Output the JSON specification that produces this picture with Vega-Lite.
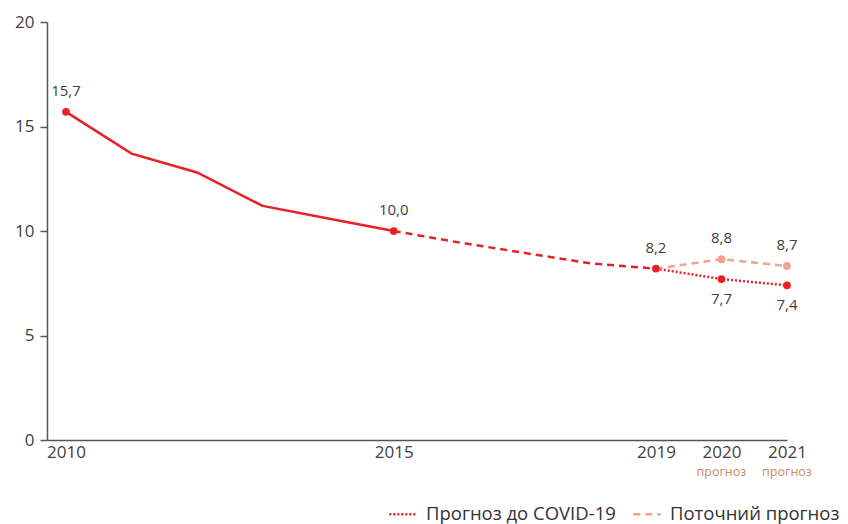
{
  "$schema": "https://vega.github.io/schema/vega-lite/v6.json",
  "width": 740,
  "height": 418,
  "autosize": {"type": "none"},
  "padding": {"left": 47, "top": 22, "right": 61, "bottom": 84},
  "background": "white",
  "config": {
    "view": {"stroke": null},
    "font": "Open Sans",
    "axis": {"labelFont": "Open Sans", "labelColor": "#404040", "domainColor": "#555555", "tickColor": "#555555", "grid": false, "title": null}
  },
  "datasets": {
    "lines": [
      {"year": 2010, "value": 15.7, "seg": "hist"},
      {"year": 2011, "value": 13.7, "seg": "hist"},
      {"year": 2012, "value": 12.8, "seg": "hist"},
      {"year": 2013, "value": 11.2, "seg": "hist"},
      {"year": 2014, "value": 10.6, "seg": "hist"},
      {"year": 2015, "value": 10.0, "seg": "hist"},
      {"year": 2015, "value": 10.0, "seg": "trend"},
      {"year": 2016, "value": 9.45, "seg": "trend"},
      {"year": 2017, "value": 8.95, "seg": "trend"},
      {"year": 2018, "value": 8.45, "seg": "trend"},
      {"year": 2019, "value": 8.2, "seg": "trend"},
      {"year": 2019, "value": 8.2, "seg": "Прогноз до COVID-19"},
      {"year": 2020, "value": 7.7, "seg": "Прогноз до COVID-19"},
      {"year": 2021, "value": 7.4, "seg": "Прогноз до COVID-19"},
      {"year": 2019, "value": 8.2, "seg": "Поточний прогноз"},
      {"year": 2020, "value": 8.65, "seg": "Поточний прогноз"},
      {"year": 2021, "value": 8.33, "seg": "Поточний прогноз"}
    ],
    "points": [
      {"year": 2010, "value": 15.7, "label": "15,7", "pos": "above", "kind": "main"},
      {"year": 2015, "value": 10.0, "label": "10,0", "pos": "above", "kind": "main"},
      {"year": 2019, "value": 8.2, "label": "8,2", "pos": "above", "kind": "main"},
      {"year": 2020, "value": 7.7, "label": "7,7", "pos": "below", "kind": "main"},
      {"year": 2021, "value": 7.4, "label": "7,4", "pos": "below", "kind": "main"},
      {"year": 2020, "value": 8.65, "label": "8,8", "pos": "above", "kind": "current"},
      {"year": 2021, "value": 8.33, "label": "8,7", "pos": "above", "kind": "current"}
    ],
    "notes": [
      {"year": 2020, "value": 0, "note": "прогноз"},
      {"year": 2021, "value": 0, "note": "прогноз"}
    ]
  },
  "encoding": {
    "x": {"field": "year", "type": "quantitative",
      "scale": {"domain": [2009.71, 2021], "nice": false, "zero": false},
      "axis": {"values": [2010, 2015, 2019, 2020, 2021], "format": "d", "ticks": false, "labelFontSize": 17, "labelPadding": 4, "domainWidth": 1.5, "labelFlush": false}},
    "y": {"field": "value", "type": "quantitative",
      "scale": {"domain": [0, 20], "nice": false},
      "axis": {"values": [0, 5, 10, 15, 20], "tickSize": 7, "labelPadding": 6, "labelFontSize": 17, "domainWidth": 1.5, "tickWidth": 1.5}}
  },
  "layer": [
    {
      "data": {"name": "lines"},
      "transform": [{"filter": "datum.seg === 'hist'"}],
      "mark": {"type": "line", "color": "#e8202a", "strokeWidth": 2.5},
      "encoding": {}
    },
    {
      "data": {"name": "lines"},
      "transform": [{"filter": "datum.seg === 'trend'"}],
      "mark": {"type": "line", "color": "#e8202a", "strokeWidth": 2.5, "strokeDash": [7, 5]},
      "encoding": {}
    },
    {
      "data": {"name": "lines"},
      "transform": [{"filter": "datum.seg !== 'hist' && datum.seg !== 'trend'"}],
      "mark": {"type": "line", "strokeWidth": 2.5},
      "encoding": {
        "color": {"field": "seg", "type": "nominal",
          "scale": {"domain": ["Прогноз до COVID-19", "Поточний прогноз"], "range": ["#e8202a", "#f2a28e"]},
          "legend": {"orient": "none", "direction": "horizontal", "legendX": 341, "legendY": 477, "title": null,
            "symbolType": "stroke", "symbolSize": 750, "symbolStrokeWidth": 2.5, "labelFontSize": 18.5, "labelColor": "#333333",
            "labelFont": "Open Sans", "labelOffset": 8, "columnPadding": 12, "labelLimit": 400}},
        "strokeDash": {"field": "seg", "type": "nominal",
          "scale": {"domain": ["Прогноз до COVID-19", "Поточний прогноз"], "range": [[2, 2], [7, 5]]},
          "legend": {"orient": "none", "direction": "horizontal", "legendX": 341, "legendY": 477, "title": null,
            "symbolType": "stroke", "symbolSize": 750, "symbolStrokeWidth": 2.5, "labelFontSize": 18.5, "labelColor": "#333333",
            "labelFont": "Open Sans", "labelOffset": 8, "columnPadding": 12, "labelLimit": 400}}
      }
    },
    {
      "data": {"name": "points"},
      "transform": [{"filter": "datum.kind === 'main'"}],
      "mark": {"type": "point", "filled": true, "opacity": 1, "size": 60, "color": "#e8202a"},
      "encoding": {}
    },
    {
      "data": {"name": "points"},
      "transform": [{"filter": "datum.kind === 'current'"}],
      "mark": {"type": "point", "filled": true, "opacity": 1, "size": 60, "color": "#f2a28e"},
      "encoding": {}
    },
    {
      "data": {"name": "points"},
      "transform": [{"filter": "datum.pos === 'above'"}],
      "mark": {"type": "text", "dy": -21, "fontSize": 15, "color": "#404040"},
      "encoding": {"text": {"field": "label"}}
    },
    {
      "data": {"name": "points"},
      "transform": [{"filter": "datum.pos === 'below'"}],
      "mark": {"type": "text", "dy": 20, "fontSize": 15, "color": "#404040"},
      "encoding": {"text": {"field": "label"}}
    },
    {
      "data": {"name": "notes"},
      "mark": {"type": "text", "dy": 32, "fontSize": 12.5, "color": "#c98a70", "clip": false},
      "encoding": {"text": {"field": "note", "type": "nominal"}}
    }
  ]
}
